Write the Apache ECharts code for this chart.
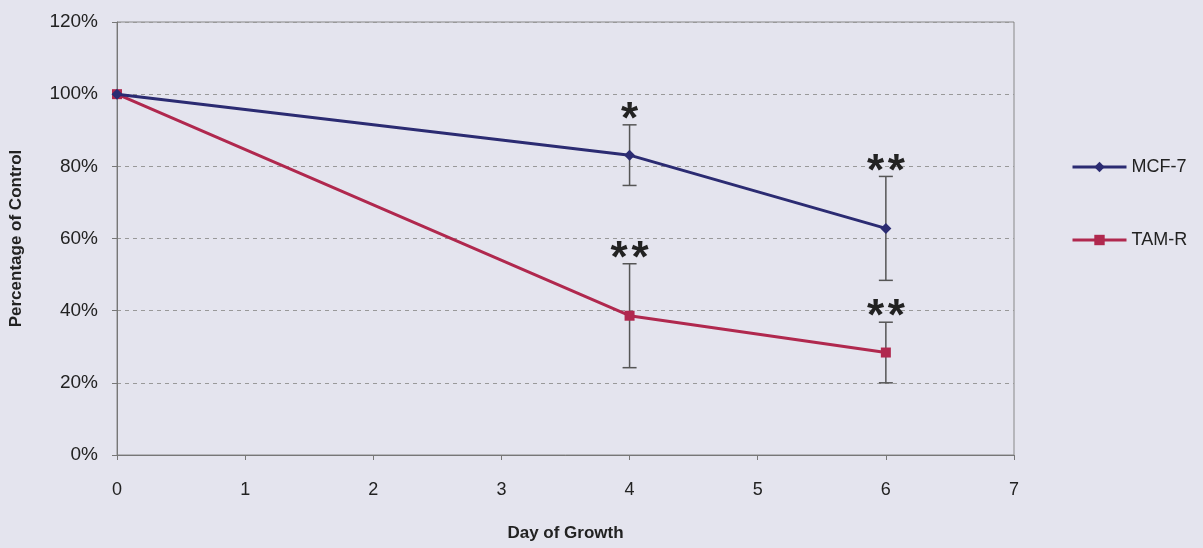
<!DOCTYPE html>
<html><head><meta charset="utf-8">
<script src="https://cdn.jsdelivr.net/npm/echarts@6/dist/echarts.min.js"></script>
<style>html,body{margin:0;padding:0;background:#e4e4ee;}#c{width:1203px;height:548px;}</style>
</head><body><div id="c"></div>
<script>
const days = [0, 4, 6];
const mcf7 = [100, 83.1, 62.8];
const mcf7Err = [0, 8.4, 14.4];
const mcf7Sig = ['', '*', '**'];
const tamr = [100, 38.6, 28.4];
const tamrErr = [0, 14.4, 8.4];
const tamrSig = ['', '**', '**'];
const yTicks = [0, 20, 40, 60, 80, 100, 120];

const FONT = '"Liberation Sans", Arial, sans-serif';
const chart = echarts.init(document.getElementById('c'));
function errData(vals, errs, sig) {
  return days.map((d, i) => [d, vals[i] - errs[i], vals[i] + errs[i], sig[i]]).filter(r => r[2] - r[1] > 0);
}
function errSeries(name, vals, errs, sig) {
  return {
    type: 'custom', name: name + ' err', silent: true, z: 1,
    data: errData(vals, errs, sig),
    renderItem: function (params, api) {
      const lo = api.coord([api.value(0), api.value(1)]);
      const hi = api.coord([api.value(0), api.value(2)]);
      const w = 7;
      const st = { stroke: '#555', lineWidth: 1.5 };
      return { type: 'group', children: [
        { type: 'line', shape: { x1: lo[0], y1: lo[1], x2: hi[0], y2: hi[1] }, style: st },
        { type: 'line', shape: { x1: lo[0] - w, y1: lo[1], x2: lo[0] + w, y2: lo[1] }, style: st },
        { type: 'line', shape: { x1: hi[0] - w, y1: hi[1], x2: hi[0] + w, y2: hi[1] }, style: st },
        { type: 'text', x: hi[0], y: hi[1] + 18, style: { text: String(api.value(3)).split('').join('\u200A'), fill: '#222', font: 'bold 44px ' + FONT, align: 'center', verticalAlign: 'bottom' } }
      ] };
    }
  };
}
chart.setOption({
  backgroundColor: '#e4e4ee',
  animation: false,
  grid: { left: 117, right: 189, top: 22, bottom: 93, show: true, borderColor: '#888', borderWidth: 1 },
  legend: {
    orient: 'vertical', left: 1066, top: 153, itemGap: 55, itemWidth: 54, itemHeight: 13,
    textStyle: { fontSize: 18, color: '#222', fontFamily: FONT },
    data: [
      { name: 'MCF-7', lineStyle: { width: 3 } },
      { name: 'TAM-R', lineStyle: { width: 3 } }
    ]
  },
  xAxis: {
    type: 'value', min: 0, max: 7, interval: 1,
    name: 'Day of Growth', nameLocation: 'middle', nameGap: 70,
    nameTextStyle: { fontSize: 17, fontWeight: 'bold', color: '#222', fontFamily: FONT },
    axisLine: { lineStyle: { color: '#777' } },
    axisTick: { show: true, length: 5, lineStyle: { color: '#777' } },
    axisLabel: { fontSize: 18, color: '#222', margin: 26, fontFamily: FONT },
    splitLine: { show: false }
  },
  yAxis: {
    type: 'value', min: 0, max: 120, interval: 20,
    name: 'Percentage of Control', nameLocation: 'middle', nameGap: 92,
    nameTextStyle: { fontSize: 17, fontWeight: 'bold', color: '#222', fontFamily: FONT },
    axisLine: { show: true, lineStyle: { color: '#777' } },
    axisTick: { show: true, length: 5, lineStyle: { color: '#777' } },
    axisLabel: { fontSize: 19, color: '#222', margin: 19, formatter: v => yTicks.includes(v) ? v + '%' : '', fontFamily: FONT },
    splitLine: { show: true, lineStyle: { color: '#999', type: [4, 4], width: 1 } }
  },
  series: [
    errSeries('MCF-7', mcf7, mcf7Err, mcf7Sig),
    errSeries('TAM-R', tamr, tamrErr, tamrSig),
    {
      name: 'MCF-7', type: 'line', z: 3, data: days.map((d, i) => [d, mcf7[i]]),
      symbol: 'diamond', symbolSize: 11, color: '#2b2b72',
      lineStyle: { width: 3, color: '#2b2b72' }, itemStyle: { color: '#2b2b72' }
    },
    {
      name: 'TAM-R', type: 'line', z: 2, data: days.map((d, i) => [d, tamr[i]]),
      symbol: 'rect', symbolSize: 10, color: '#b0284e',
      lineStyle: { width: 3, color: '#b0284e' }, itemStyle: { color: '#b0284e' }
    }
  ]
});
</script></body></html>
